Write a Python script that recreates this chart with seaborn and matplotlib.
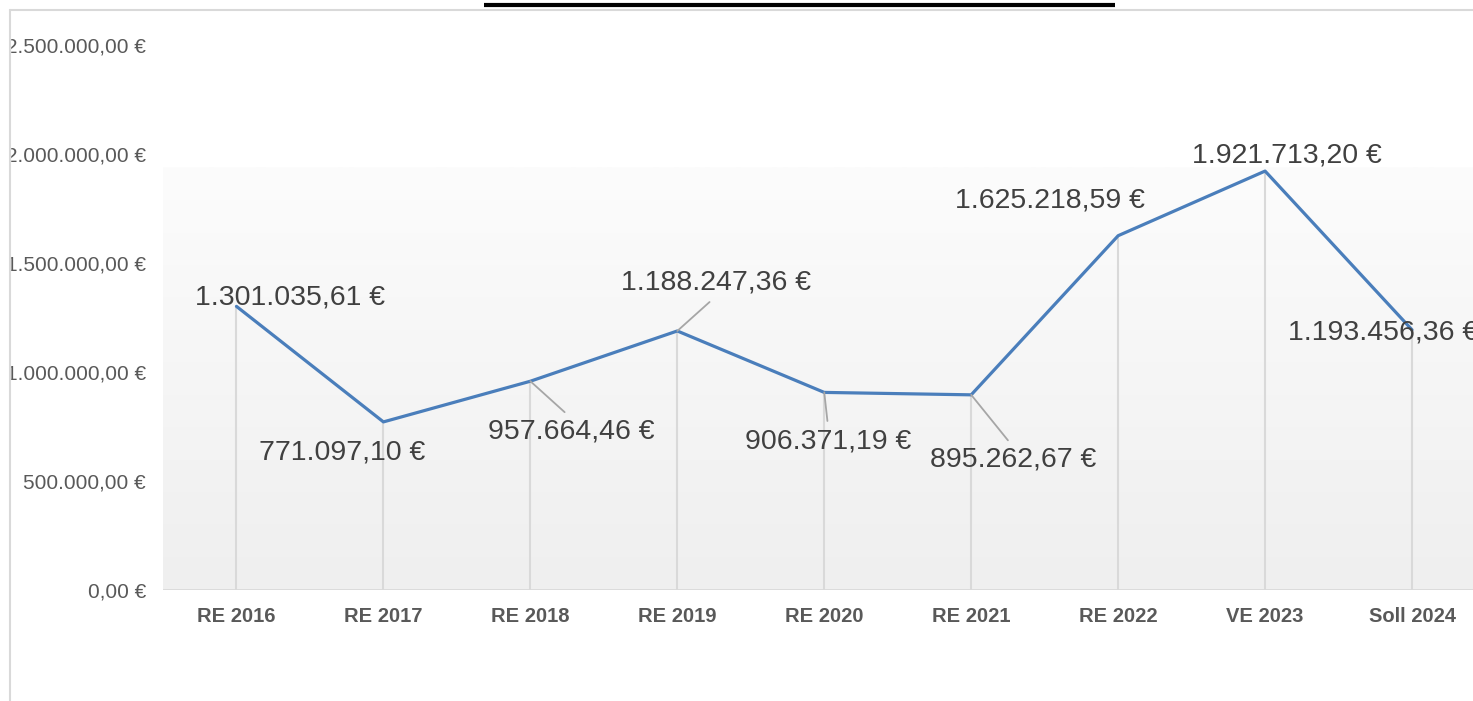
import numpy as np
import pandas as pd
import matplotlib
matplotlib.use("Agg")
import matplotlib.pyplot as plt
import seaborn as sns
from matplotlib.colors import LinearSegmentedColormap
from matplotlib.lines import Line2D
from matplotlib.patches import Rectangle

# ---- data ----
categories = ["RE 2016", "RE 2017", "RE 2018", "RE 2019", "RE 2020",
              "RE 2021", "RE 2022", "VE 2023", "Soll 2024"]
values = [1301035.61, 771097.10, 957664.46, 1188247.36, 906371.19,
          895262.67, 1625218.59, 1921713.20, 1193456.36]
y_ticks = [0, 500000, 1000000, 1500000, 2000000, 2500000]

# label placement (pixel offsets from the point) and leader-line flags
label_offsets = [(54, 9), (-41, -31), (41, -50), (39, 48), (4, -49),
                 (42, -65), (-68, 35), (22, 16), (-29, -3)]
leaders = [False, False, True, True, True, True, False, False, False]


def eur(v):
    s = f"{v:,.2f}"
    s = s.replace(",", "X").replace(".", ",").replace("X", ".")
    return s + " €"


sns.set_theme(style="white")
plt.rcParams["font.family"] = ["Liberation Sans", "DejaVu Sans"]

W, H = 1473, 701
fig = plt.figure(figsize=(W / 100, H / 100), dpi=100)
fig.patch.set_facecolor("white")
ax = fig.add_axes([163 / W, (H - 590) / H, 1322.5 / W, 545 / H])
ax.set_facecolor("none")

df = pd.DataFrame({"cat": categories, "val": values})

sns.lineplot(data=df, x="cat", y="val", sort=False, color="#4a7ebb",
             lw=2.3, ax=ax, zorder=4)

# drop lines
ax.vlines(np.arange(len(categories)), 0, df["val"], color="#d9d9d9",
          lw=1.5, zorder=2)
ax.axhline(0, color="#d9d9d9", lw=2, zorder=3)

# gradient plot-area background
grad = np.linspace(0, 1, 256).reshape(-1, 1)
cmap = LinearSegmentedColormap.from_list("g", ["#efefef", "#fcfcfc"])
ax.imshow(grad, extent=(-0.5, 8.5, 0, 1936000), origin="lower",
          aspect="auto", cmap=cmap, zorder=0)

ax.set_xlim(-0.5, 8.5)
ax.set_ylim(0, 2500000)
for s in ax.spines.values():
    s.set_visible(False)
ax.grid(False)

ax.set_yticks(y_ticks, labels=[eur(v) for v in y_ticks])
ax.tick_params(axis="y", length=0, pad=12.2, labelsize=15,
               labelcolor="#595959")
ax.set_xticks(np.arange(len(categories)), labels=categories)
ax.tick_params(axis="x", length=0, pad=12.5, labelsize=14.5,
               labelcolor="#595959")
for t in ax.get_xticklabels():
    t.set_fontweight("bold")
ax.set_xlabel("")
ax.set_ylabel("")

for i, (v, (dx, dy), ld) in enumerate(zip(values, label_offsets, leaders)):
    kw = {}
    if ld:
        kw["arrowprops"] = dict(arrowstyle="-", color="#a6a6a6", lw=1.3,
                                relpos=(0.5, 1 if dy < 0 else 0),
                                shrinkA=3, shrinkB=0)
    ax.annotate(eur(v), xy=(i, v), xytext=(dx, dy),
                textcoords="offset pixels", ha="center", va="center",
                fontsize=20.5, color="#404040", zorder=6,
                annotation_clip=False, **kw)

# frame / clipping of the screenshot
fig.add_artist(Rectangle((0, 0), 9.5 / W, 1, transform=fig.transFigure,
                         color="white", zorder=20))
fig.add_artist(Line2D([10 / W, 10 / W], [0, (H - 9.5) / H],
                      transform=fig.transFigure, color="#d9d9d9", lw=1.5,
                      zorder=21))
fig.add_artist(Line2D([10 / W, 1], [(H - 9.5) / H, (H - 9.5) / H],
                      transform=fig.transFigure, color="#d9d9d9", lw=1.5,
                      zorder=21))
# title underline (title itself is cut off above)
fig.add_artist(Line2D([484 / W, 1115 / W], [(H - 5) / H, (H - 5) / H],
                      transform=fig.transFigure, color="black", lw=3,
                      solid_capstyle="butt", zorder=21))

fig.savefig("out.png", dpi=100)
